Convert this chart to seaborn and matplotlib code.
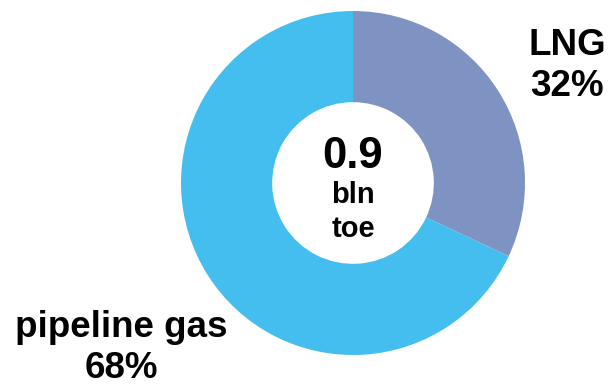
import matplotlib
matplotlib.use("Agg")
import matplotlib.pyplot as plt
import seaborn as sns

# Import mix by route, share of total (%)
categories = ["LNG", "pipeline gas"]
shares = [32, 68]
colors = ["#7F93C2", "#44BEEE"]
total_value = "0.9"
total_unit = ["bln", "toe"]

sns.set_theme(style="white")
plt.rcParams["font.family"] = ["Liberation Sans", "DejaVu Sans"]

fig = plt.figure(figsize=(6.11, 3.85), dpi=100)
ax = fig.add_axes([181 / 611, 30 / 385, 344 / 611, 344 / 385])

ax.pie(shares, colors=colors, startangle=90, counterclock=False,
       radius=1.0, wedgeprops=dict(width=0.53, linewidth=0))
ax.set_xlim(-1, 1)
ax.set_ylim(-1, 1)
ax.set_aspect("equal")
ax.axis("off")

# Category labels with shares (baseline positions)
label_pos = {"LNG": (1.244, 0.744), "pipeline gas": (-1.349, -0.893)}
for name, val in zip(categories, shares):
    x, y = label_pos[name]
    ax.text(x, y, name, ha="center", va="baseline", fontsize=26.5,
            fontweight="bold", color="black", clip_on=False)
    ax.text(x, y - 0.238, f"{val}%", ha="center", va="baseline",
            fontsize=26.5, fontweight="bold", color="black", clip_on=False)

# Total in the hole
ax.text(0, 0.087, total_value, ha="center", va="baseline", fontsize=31.5,
        fontweight="bold", color="black")
ax.text(0, -0.116, total_unit[0], ha="center", va="baseline", fontsize=21,
        fontweight="bold", color="black")
ax.text(0, -0.312, total_unit[1], ha="center", va="baseline", fontsize=21,
        fontweight="bold", color="black")

fig.savefig("out.png", dpi=100, facecolor="white")
